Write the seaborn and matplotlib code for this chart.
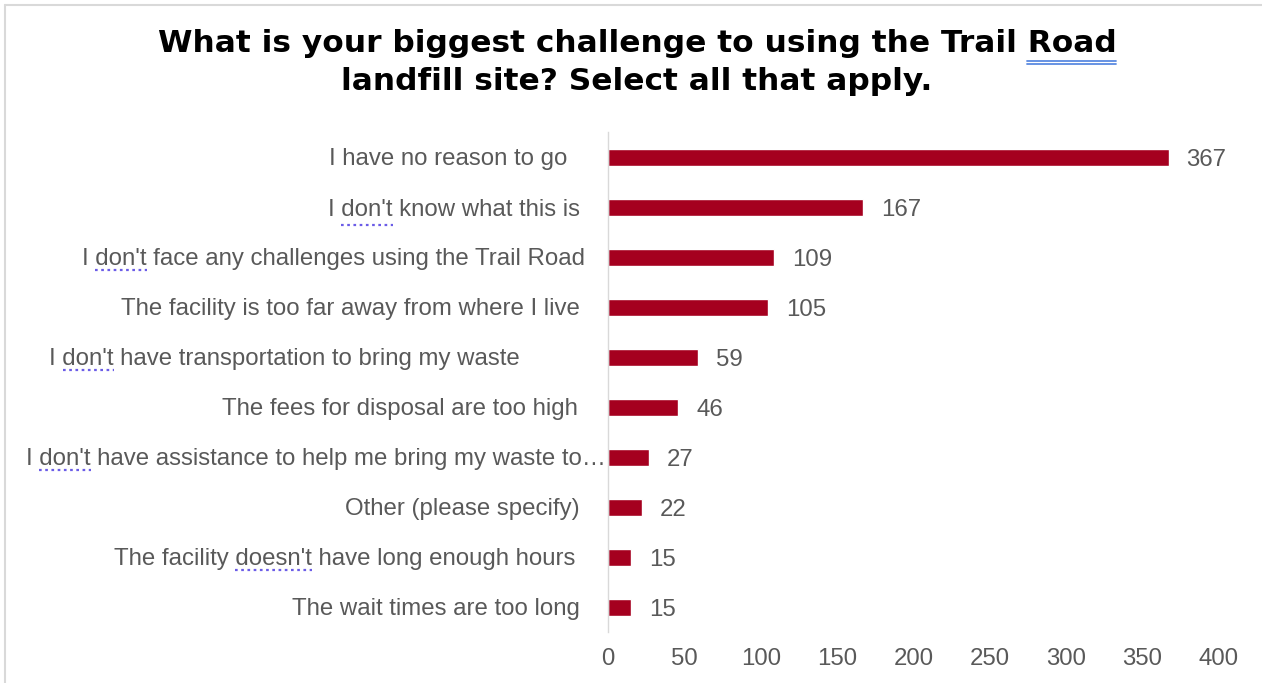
import matplotlib
matplotlib.use("Agg")
import matplotlib.pyplot as plt
from matplotlib.lines import Line2D
from matplotlib.transforms import IdentityTransform
import seaborn as sns

# Survey responses (multi-select)
categories = [
    "I have no reason to go",
    "I don't know what this is",
    "I don't face any challenges using the Trail Road",
    "The facility is too far away from where I live",
    "I don't have transportation to bring my waste",
    "The fees for disposal are too high",
    "I don't have assistance to help me bring my waste to\u2026",
    "Other (please specify)",
    "The facility doesn't have long enough hours",
    "The wait times are too long",
]
counts = [367, 167, 109, 105, 59, 46, 27, 22, 15, 15]
x_ticks = [0, 50, 100, 150, 200, 250, 300, 350, 400]
title_lines = ["What is your biggest challenge to using the Trail Road",
               "landfill site? Select all that apply."]

# gap (px) between the axis and the right end of each category label
label_gaps = [41, 28, 23, 28, 88, 30, 2, 28, 33, 28]

BAR = "#A5001F"
GREY = "#595959"
FONT = "Liberation Sans"
FS = 17.3

sns.set_theme(style="white")
plt.rcParams["font.family"] = [FONT, "DejaVu Sans"]

W, H = 1262, 683
fig = plt.figure(figsize=(W / 100, H / 100), dpi=100)
ax = fig.add_axes([608 / W, 1 - 632 / H, (1219 - 608) / W, (632 - 132) / H])

sns.barplot(x=counts, y=categories, orient="h", color=BAR, saturation=1,
            width=0.34, ax=ax)

ax.set_xlim(0, 400)
ax.set_ylim(len(categories) - 0.5, -0.5)
ax.set_xticks(x_ticks)
ax.set_xticklabels([str(t) for t in x_ticks], fontsize=FS, color=GREY)
ax.tick_params(axis="x", length=0, pad=11.5)
ax.tick_params(axis="y", length=0, labelleft=False)
ax.set_xlabel("")
ax.set_ylabel("")
for side in ("top", "right", "bottom"):
    ax.spines[side].set_visible(False)
ax.spines["left"].set_color("#D9D9D9")
ax.spines["left"].set_linewidth(1.0)

cat_texts = []
for i, (cat, v) in enumerate(zip(categories, counts)):
    t = ax.annotate(cat, xy=(0, i), xytext=(-label_gaps[i], 0),
                    textcoords="offset pixels", ha="right", va="center_baseline",
                    fontsize=FS, color=GREY)
    cat_texts.append(t)
    ax.annotate(str(v), xy=(v, i), xytext=(18, 0), textcoords="offset pixels",
                ha="left", va="center_baseline", fontsize=FS, color=GREY)

TITLE_FONT = ["DejaVu Sans"]
t1 = fig.text(637 / W, 1 - 44 / H, title_lines[0], ha="center", va="center",
              fontsize=22.5, fontweight="bold", color="black", family=TITLE_FONT)
fig.text(637 / W, 1 - 81 / H, title_lines[1], ha="center", va="center",
         fontsize=22.5, fontweight="bold", color="black", family=TITLE_FONT)

# outer frame (left and top edges)
fig.add_artist(Line2D([5, 5], [0, H - 5], transform=IdentityTransform(),
                      color="#D9D9D9", lw=1.5))
fig.add_artist(Line2D([5, W], [H - 5, H - 5], transform=IdentityTransform(),
                      color="#D9D9D9", lw=1.5))

# proofing underlines beneath flagged words
fig.canvas.draw()
renderer = fig.canvas.get_renderer()


def word_span(text_artist, word):
    s = text_artist.get_text()
    prop = text_artist.get_fontproperties()
    idx = s.index(word)
    full_w, _, full_d = renderer.get_text_width_height_descent(s, prop, ismath=False)
    upto_w = renderer.get_text_width_height_descent(s[: idx + len(word)], prop, ismath=False)[0]
    word_w = renderer.get_text_width_height_descent(word, prop, ismath=False)[0]
    bb = text_artist.get_window_extent(renderer)
    x1 = bb.x0 + upto_w
    return x1 - word_w, x1, bb.y0 + full_d


for t in cat_texts:
    s = t.get_text()
    for word in ("don't", "doesn't"):
        if word in s:
            x0, x1, base = word_span(t, word)
            fig.add_artist(Line2D([x0, x1], [base - 4, base - 4],
                                  transform=IdentityTransform(),
                                  color="#6B5CE7", lw=1.6, ls=(0, (1.2, 1.6))))

x0, x1, base = word_span(t1, "Road")
for dy in (8, 11):
    fig.add_artist(Line2D([x0, x1], [base - dy, base - dy],
                          transform=IdentityTransform(), color="#5B8AE0", lw=1.3))

fig.savefig("out.png", dpi=100)
